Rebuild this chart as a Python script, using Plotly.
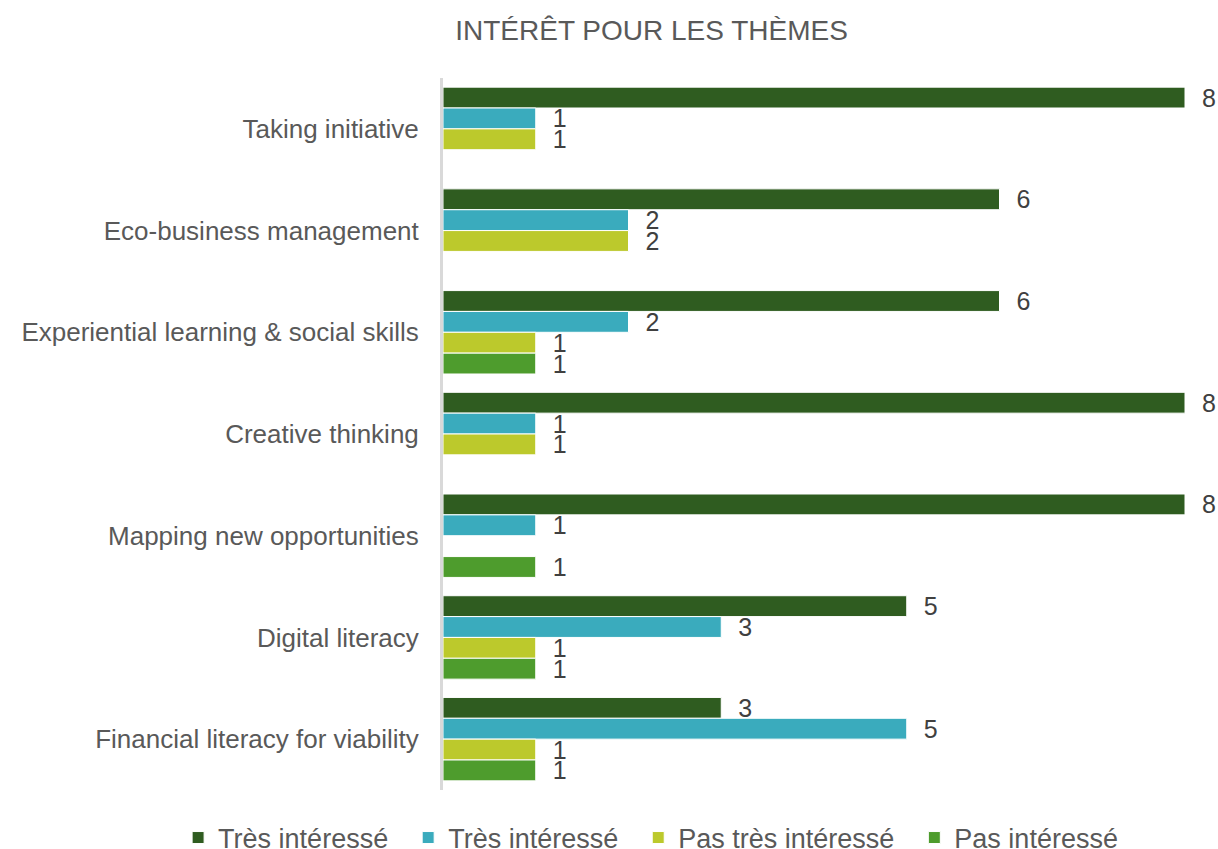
import plotly.graph_objects as go

# categories listed top to bottom
themes = [
    "Taking initiative",
    "Eco-business management",
    "Experiential learning & social skills",
    "Creative thinking",
    "Mapping new opportunities",
    "Digital literacy",
    "Financial literacy for viability",
]

tres_interesse_1 = [8, 6, 6, 8, 8, 5, 3]
tres_interesse_2 = [1, 2, 2, 1, 1, 3, 5]
pas_tres_interesse = [1, 2, 1, 1, None, 1, 1]
pas_interesse = [None, None, 1, None, 1, 1, 1]

series = [
    ("Très intéressé", tres_interesse_1, "#2F5C20"),
    ("Très intéressé", tres_interesse_2, "#3AABBD"),
    ("Pas très intéressé", pas_tres_interesse, "#BCC92C"),
    ("Pas intéressé", pas_interesse, "#4E9C2D"),
]

fig = go.Figure()
for nom, valeurs, couleur in series:
    fig.add_trace(go.Bar(
        y=themes,
        x=valeurs,
        name=nom + "\u00a0\u00a0",
        orientation="h",
        marker=dict(color=couleur, line=dict(color="white", width=1)),
        text=[f"  {v}" if v is not None else "" for v in valeurs],
        textposition="outside",
        textfont=dict(size=25, color="#404040"),
        constraintext="none",
        cliponaxis=False,
    ))

fig.update_layout(
    width=1218,
    height=849,
    barmode="group",
    bargap=0.18,
    bargroupgap=0,
    plot_bgcolor="white",
    paper_bgcolor="white",
    font=dict(family="Liberation Sans, Arial, sans-serif", color="#595959"),
    title=dict(
        text="INTÉRÊT POUR LES THÈMES",
        x=0.5349, xref="container", xanchor="center",
        y=0.9647, yref="container", yanchor="middle",
        font=dict(size=28, color="#595959"),
    ),
    margin=dict(l=443, r=33, t=78, b=59, autoexpand=False),
    legend=dict(
        orientation="h",
        x=-0.357, xanchor="left",
        y=-0.0674, yanchor="middle",
        font=dict(size=27, color="#595959"),
        traceorder="normal",
    ),
    showlegend=True,
)

fig.update_xaxes(range=[0, 8], visible=False, showgrid=False)
fig.update_yaxes(
    autorange="reversed",
    showline=True, linecolor="#D9D9D9", linewidth=3,
    ticks="", ticklabelstandoff=16,
    tickfont=dict(size=26, color="#595959"),
    showgrid=False,
)

# pas de marge autour de la figure dans la page, pas de barre d'outils
fig.write_html(
    "out.html",
    config={"displayModeBar": False},
    post_script="document.body.style.margin = '0';",
)
